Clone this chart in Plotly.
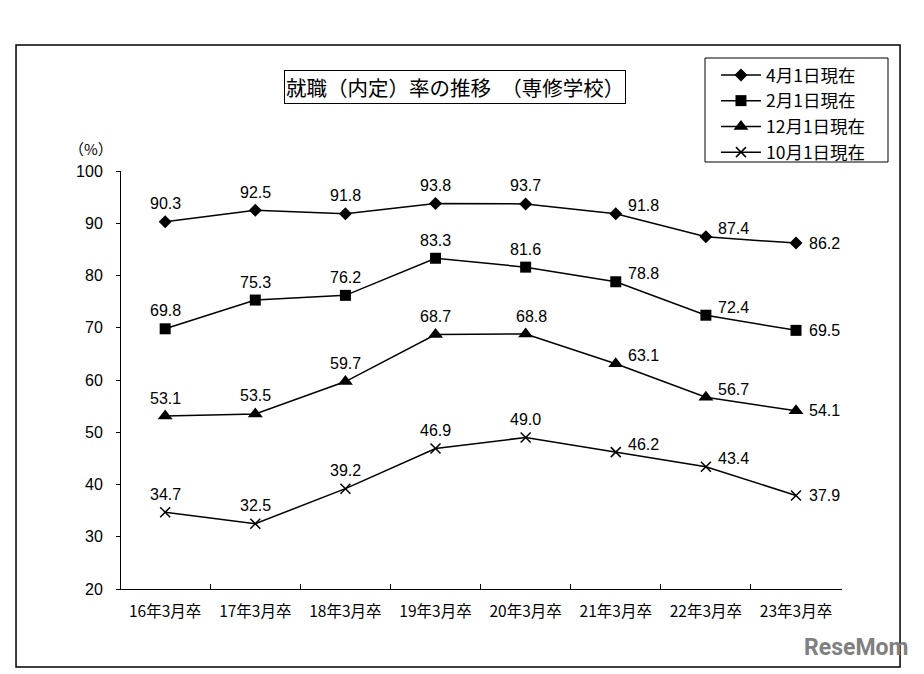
import plotly.graph_objects as go

categories = ["16年3月卒", "17年3月卒", "18年3月卒", "19年3月卒",
              "20年3月卒", "21年3月卒", "22年3月卒", "23年3月卒"]
series_names = ["4月1日現在", "2月1日現在", "12月1日現在", "10月1日現在"]
apr1 = [90.3, 92.5, 91.8, 93.8, 93.7, 91.8, 87.4, 86.2]
feb1 = [69.8, 75.3, 76.2, 83.3, 81.6, 78.8, 72.4, 69.5]
dec1 = [53.1, 53.5, 59.7, 68.7, 68.8, 63.1, 56.7, 54.1]
oct1 = [34.7, 32.5, 39.2, 46.9, 49.0, 46.2, 43.4, 37.9]
y_ticks = [20, 30, 40, 50, 60, 70, 80, 90, 100]

# label placement codes: T = above, U = upper right, R = right
placements = [
    ["T", "T", "T", "T", "T", "U", "U", "R"],
    ["T", "T", "T", "T", "T", "U", "U", "R"],
    ["T", "T", "T", "T", "T2", "U", "U", "R"],
    ["T", "T", "T", "T", "T", "U", "U", "R"],
]

FONT = "Liberation Sans, Arial, Noto Sans CJK JP, sans-serif"
JFONT = "Noto Sans CJK JP, sans-serif"

all_series = [apr1, feb1, dec1, oct1]
symbols = ["diamond", "square", "triangle-up", "x-thin"]
sizes = [10, 11, 13, 10]

fig = go.Figure()
for name, vals, sym, sz in zip(series_names, all_series, symbols, sizes):
    if sym == "x-thin":
        marker = dict(symbol=sym, size=sz, color="black",
                      line=dict(color="black", width=1.5))
    else:
        marker = dict(symbol=sym, size=sz, color="black", line=dict(width=0))
    fig.add_trace(go.Scatter(
        x=categories, y=vals, name=name, mode="lines+markers",
        line=dict(color="black", width=1.5), marker=marker,
    ))

annotations = []
for vals, places in zip(all_series, placements):
    for cat, v, p in zip(categories, vals, places):
        if p == "T":
            kw = dict(xanchor="center", yanchor="middle", xshift=0, yshift=18)
        elif p == "T2":
            kw = dict(xanchor="center", yanchor="middle", xshift=6, yshift=18)
        elif p == "U":
            kw = dict(xanchor="left", yanchor="middle", xshift=10, yshift=8)
        else:
            kw = dict(xanchor="left", yanchor="middle", xshift=11, yshift=0)
        annotations.append(dict(
            x=cat, y=v, xref="x", yref="y", text=f"{v:.1f}", showarrow=False,
            font=dict(family=FONT, size=16, color="black"), **kw))

# title box
annotations.append(dict(
    x=0.4632, y=1.201, xref="paper", yref="paper",
    text="就職（内定）率の推移　（専修学校）", showarrow=False,
    xanchor="center", yanchor="middle",
    font=dict(family=JFONT, size=20.5, color="black"),
    bordercolor="black", borderwidth=1, borderpad=1, bgcolor="white"))
# (%) label
annotations.append(dict(
    x=-0.041, y=1.055, xref="paper", yref="paper", text="（%）", showarrow=False,
    xanchor="center", yanchor="middle",
    font=dict(family=JFONT, size=15, color="black")))
# watermark
annotations.append(dict(
    x=1.095, y=-0.14, xref="paper", yref="paper", text="<b>ReseMom</b>",
    showarrow=False, xanchor="right", yanchor="middle",
    font=dict(family="Liberation Sans Narrow, Roboto, sans-serif", size=23,
              color="#808080")))

fig.update_layout(
    width=916, height=666,
    margin=dict(l=113, r=82, t=163, b=85),
    paper_bgcolor="white", plot_bgcolor="white",
    font=dict(family=FONT, size=16, color="black"),
    showlegend=True,
    legend=dict(
        x=0.8252, y=1.2727, xanchor="left", yanchor="top",
        borderwidth=0, bgcolor="rgba(0,0,0,0)",
        font=dict(family=JFONT, size=17.5, color="black"),
        itemwidth=40,
    ),
    annotations=annotations,
    shapes=[
        dict(type="rect", xref="paper", yref="paper",
             x0=-0.1456, x1=1.0805, y0=-0.1866, y1=1.3014,
             line=dict(color="black", width=1.5), layer="below"),
        dict(type="rect", xref="paper", yref="paper",
             x0=(705 - 121) / 721, x1=(888 - 121) / 721,
             y0=(589 - 162) / 418, y1=(589 - 58) / 418,
             line=dict(color="black", width=1), layer="below"),
    ],
)
fig.update_xaxes(
    type="category", showline=True, linecolor="black", linewidth=1,
    ticks="inside", ticklen=5, tickcolor="black", tickson="boundaries",
    showgrid=False, zeroline=False,
    tickfont=dict(family=JFONT, size=15.5, color="black"),
    ticklabelstandoff=8,
)
fig.update_yaxes(
    range=[20, 100], tickvals=y_ticks, showline=True, linecolor="black",
    linewidth=1, ticks="outside", ticklen=4, tickcolor="black",
    showgrid=False, zeroline=False,
    tickfont=dict(family=FONT, size=16, color="black"),
    ticklabelstandoff=10,
)

fig.write_html("out.html")
